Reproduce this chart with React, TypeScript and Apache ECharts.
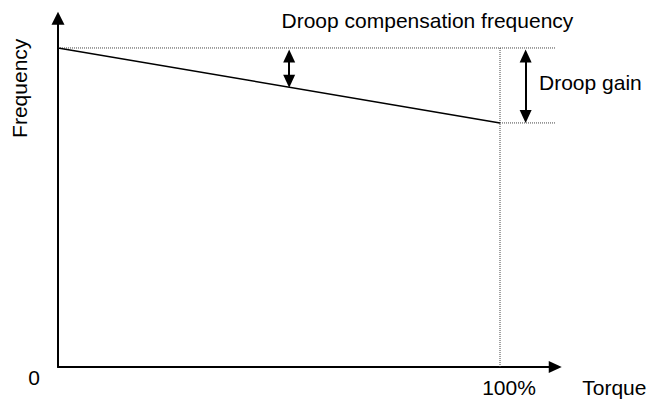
import React, { useEffect, useRef } from "react";
import * as echarts from "echarts";

// Axis ranges (torque in %, frequency in % of the droop compensation frequency)
const torqueRange = [0, 112.5];
const freqRange = [0, 109.3];

// Droop characteristic: frequency falls from 100 at 0 torque to 76.5 at 100% torque
const droopLine: [number, number][] = [
  [0, 100],
  [100, 76.5],
];

// Reference (dotted) lines
const compensationLevel: [number, number][] = [
  [0, 100],
  [112.5, 100],
];
const ratedTorqueLine: [number, number][] = [
  [100, 0],
  [100, 100],
];
const droopLevel: [number, number][] = [
  [100, 76.5],
  [112.5, 76.5],
];

// Double arrows (torque, upper head centre, lower head centre)
const arrowCompensation: [number, number, number] = [52.3, 97.5, 89.6];
const arrowGain: [number, number, number] = [105.8, 97.5, 78.5];

// Tick labels
const xTickValues = [100];
const xTickFormat = "{value}%";

// Texts
const titleText = "Droop compensation frequency";
const gainText = "Droop gain";
const xName = "Torque";
const yName = "Frequency";
const originText = "0";

const FONT = '"Liberation Sans", Arial, Helvetica, sans-serif';
const FS = 21;

export default function App() {
  const ref = useRef<HTMLDivElement>(null);
  useEffect(() => {
    if (!ref.current) return;
    const chart = echarts.init(ref.current, undefined, { renderer: "svg" });
    const dotted = { color: "#444", width: 1, type: "dotted" as const };
    const arrowMark = (a: [number, number, number]) => ({
      silent: true,
      symbol: ["triangle", "triangle"],
      symbolSize: [12, 13],
      label: { show: false },
      lineStyle: { color: "#000", width: 2, type: "solid" },
      emphasis: { disabled: true },
      data: [
        [
          { coord: [a[0], a[1]] },
          { coord: [a[0], a[2]] },
        ],
      ],
    });
    chart.setOption({
      animation: false,
      textStyle: { fontFamily: FONT },
      grid: {
        left: 58,
        right: 651 - 555.25,
        top: 18.3,
        bottom: 32,
        containLabel: false,
        outerBoundsMode: "none",
      },
      xAxis: {
        type: "value",
        min: torqueRange[0],
        max: torqueRange[1],
        name: xName,
        nameLocation: "end",
        nameGap: 27,
        nameTextStyle: {
          color: "#000",
          fontSize: FS,
          fontFamily: FONT,
          verticalAlign: "top",
          lineHeight: 41,
        },
        axisLine: {
          show: true,
          symbol: ["none", "triangle"],
          symbolSize: [12, 13],
          lineStyle: { color: "#000", width: 2 },
        },
        axisTick: { show: false },
        splitLine: { show: false },
        axisLabel: {
          show: true,
          customValues: xTickValues,
          formatter: xTickFormat,
          color: "#000",
          fontSize: FS,
          fontFamily: FONT,
          margin: 10,
          padding: [0, 0, 0, 18],
        },
      },
      yAxis: {
        type: "value",
        min: freqRange[0],
        max: freqRange[1],
        axisLine: {
          show: true,
          symbol: ["none", "triangle"],
          symbolSize: [13, 13],
          lineStyle: { color: "#000", width: 2 },
        },
        axisTick: { show: false },
        splitLine: { show: false },
        axisLabel: { show: false },
      },
      series: [
        { type: "line", data: compensationLevel, symbol: "none", lineStyle: dotted, z: 1 },
        { type: "line", data: ratedTorqueLine, symbol: "none", lineStyle: dotted, z: 1 },
        { type: "line", data: droopLevel, symbol: "none", lineStyle: dotted, z: 1 },
        {
          type: "line",
          data: droopLine,
          symbol: "none",
          lineStyle: { color: "#000", width: 1.5 },
          z: 2,
          markLine: arrowMark(arrowCompensation),
        },
        {
          type: "line",
          data: [],
          symbol: "none",
          markLine: arrowMark(arrowGain),
        },
      ],
      graphic: [
        {
          type: "text",
          x: 281.5,
          y: 20,
          style: { text: titleText, fill: "#000", font: `${FS}px ${FONT}`, align: "left", verticalAlign: "middle" },
        },
        {
          type: "text",
          x: 539,
          y: 82.5,
          style: { text: gainText, fill: "#000", font: `${FS}px ${FONT}`, align: "left", verticalAlign: "middle" },
        },
        {
          type: "text",
          x: 19.5,
          y: 88.3,
          rotation: Math.PI / 2,
          style: { text: yName, fill: "#000", font: `${FS}px ${FONT}`, align: "center", verticalAlign: "middle" },
        },
        {
          type: "text",
          x: 34,
          y: 377.5,
          style: { text: originText, fill: "#000", font: `${FS}px ${FONT}`, align: "center", verticalAlign: "middle" },
        },
      ],
    });
    return () => chart.dispose();
  }, []);
  return (
    <div
      ref={ref}
      style={{ position: "fixed", left: 0, top: 0, width: 651, height: 399, background: "#fff" }}
    />
  );
}
